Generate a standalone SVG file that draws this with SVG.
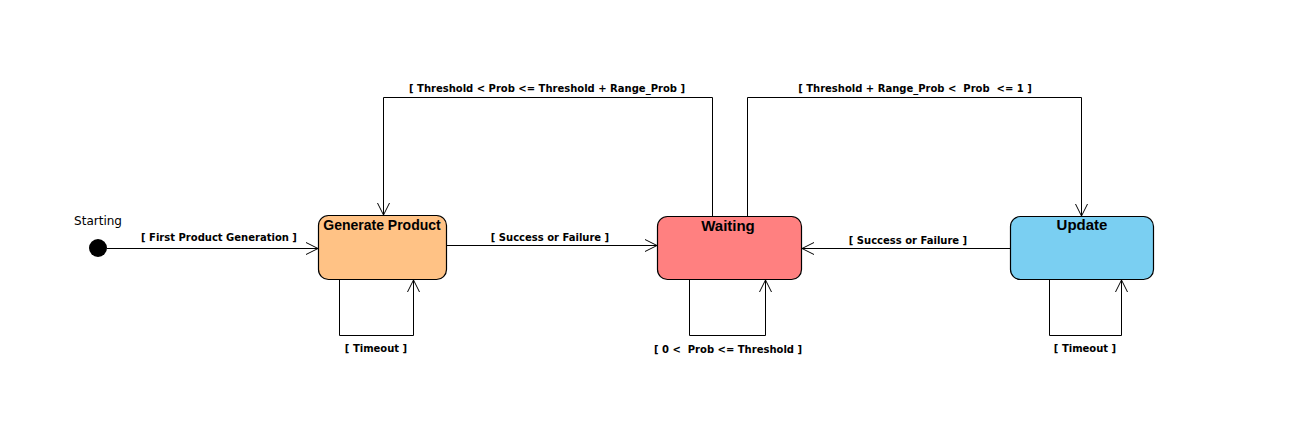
<svg xmlns="http://www.w3.org/2000/svg" width="1301" height="423" viewBox="0 0 1301 423">
<style>
.lbl{font-family:"DejaVu Sans",sans-serif;font-size:10px;font-weight:bold;fill:#000;text-anchor:middle;white-space:pre}
.ttl{font-family:"Liberation Sans",Arial,sans-serif;font-size:14px;font-weight:bold;fill:#000;text-anchor:middle}
.ttl2{font-family:"Liberation Sans",Arial,sans-serif;font-size:15px;font-weight:bold;fill:#000;text-anchor:middle}
.st{stroke:#000;stroke-width:1.2}
.ln{fill:none;stroke:#000;stroke-width:1}
</style>
<defs>
<marker id="arr" viewBox="0 0 14 14" refX="13" refY="7" markerWidth="14" markerHeight="14" markerUnits="userSpaceOnUse" orient="auto">
<path d="M1,1 L13,7 L1,13" fill="none" stroke="#000" stroke-width="1"/>
</marker>
</defs>
<rect width="1301" height="423" fill="#fff"/>
<g id="start">
<circle cx="98" cy="248" r="9" fill="#000"/>
<text x="98" y="225" font-family="'DejaVu Sans',sans-serif" font-size="12" text-anchor="middle">Starting</text>
</g>
<g id="generate">
<rect x="318.5" y="215.5" width="128" height="64" rx="10" fill="#ffc285" class="st"/>
<text x="382" y="230" class="ttl">Generate Product</text>
</g>
<g id="waiting">
<rect x="657.5" y="216.5" width="144" height="63" rx="10" fill="#ff8080" class="st"/>
<text x="728" y="231" class="ttl2">Waiting</text>
</g>
<g id="update">
<rect x="1010.5" y="216.5" width="143" height="63" rx="10" fill="#7acff2" class="st"/>
<text x="1082" y="230" class="ttl2">Update</text>
</g>
<g id="connectors">
<path d="M107,248.5 H318" class="ln" marker-end="url(#arr)"/>
<text x="219" y="241" class="lbl">[ First Product Generation ]</text>
<path d="M446,245.5 H657" class="ln" marker-end="url(#arr)"/>
<text x="550" y="241" class="lbl">[ Success or Failure ]</text>
<path d="M1010,248.5 H802" class="ln" marker-end="url(#arr)"/>
<text x="908" y="244" class="lbl">[ Success or Failure ]</text>
<path d="M339.5,280 V335.5 H413.5 V280" class="ln" marker-end="url(#arr)"/>
<text x="376" y="352" class="lbl">[ Timeout ]</text>
<path d="M689.5,280 V335.5 H765.5 V280" class="ln" marker-end="url(#arr)"/>
<text x="728" y="353" class="lbl">[ 0 &lt;  Prob &lt;= Threshold ]</text>
<path d="M1049.5,280 V335.5 H1121.5 V280" class="ln" marker-end="url(#arr)"/>
<text x="1085" y="352" class="lbl">[ Timeout ]</text>
<path d="M712.5,216 V97.5 H383.5 V215" class="ln" marker-end="url(#arr)"/>
<text x="547" y="92" class="lbl">[ Threshold &lt; Prob &lt;= Threshold + Range_Prob ]</text>
<path d="M747.5,216 V97.5 H1081.5 V216" class="ln" marker-end="url(#arr)"/>
<text x="915" y="92" class="lbl">[ Threshold + Range_Prob &lt;  Prob  &lt;= 1 ]</text>
</g>
</svg>
